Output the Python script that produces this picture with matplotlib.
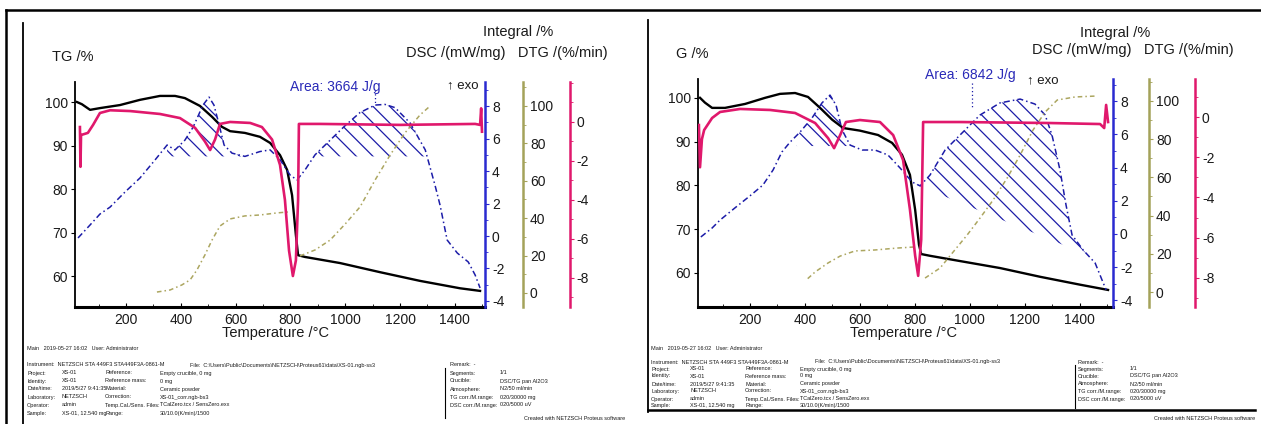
import numpy as np
import matplotlib
matplotlib.use("Agg")
import matplotlib.pyplot as plt
from matplotlib.lines import Line2D
from matplotlib.ticker import MultipleLocator

plt.rcParams['font.family'] = ['Liberation Sans', 'DejaVu Sans']
plt.rcParams['hatch.linewidth'] = 0.9
plt.rcParams['axes.unicode_minus'] = False

# ---------------- left measurement ----------------
l_tg_t = [21, 39, 69, 105, 178, 251, 324, 379, 415, 470, 514, 550, 580, 634, 689, 726, 762, 788,
          806, 820, 828, 853, 981, 1127, 1273, 1419, 1492]
l_tg = [100, 99.5, 98.2, 98.6, 99.3, 100.5, 101.4, 101.4, 100.9, 99.1, 96.6, 94.3, 93.3, 92.9,
        92.0, 90.6, 87.8, 84.4, 78.6, 69.4, 64.8, 64.4, 63.0, 60.9, 58.9, 57.2, 56.6]

l_dtg_t = [32, 34, 36, 61, 80, 105, 142, 215, 324, 397, 452, 488, 507, 525, 543, 580, 653, 696,
           733, 762, 780, 795, 809, 820, 828, 831, 908, 1200, 1474, 1492, 1496, 1499]
l_dtg = [-0.26, -2.3, -0.67, -0.56, -0.15, 0.46, 0.6, 0.56, 0.41, 0.2, -0.3, -1.0, -1.44, -0.9,
         -0.1, 0.0, -0.05, -0.26, -0.9, -2.2, -4.0, -6.6, -7.9, -7.1, -4.0, -0.1, -0.1, -0.15,
         -0.1, -0.15, 0.7, -0.5]

l_dsc_t = [25, 69, 105, 142, 196, 251, 306, 350, 379, 415, 445, 481, 503, 521, 536, 558, 587, 634,
           689, 726, 762, 799, 824, 853, 890, 945, 1000, 1054, 1109, 1145, 1182, 1237, 1292, 1328,
           1346, 1372, 1409, 1449, 1474, 1492]
l_dsc = [-0.12, 0.68, 1.35, 1.78, 2.7, 3.57, 4.68, 5.6, 5.3, 5.9, 6.7, 8.06, 8.55, 8.06, 7.1, 5.6,
         5.1, 4.9, 5.2, 5.3, 4.7, 3.75, 3.45, 4.06, 5.0, 5.9, 6.8, 7.6, 8.06, 8.1, 7.9, 6.95, 5.3,
         3.1, 1.9, -0.25, -1.05, -1.6, -2.4, -3.2]

# baselines of the evaluated peaks (T from, T to, DSC from, DSC to)
l_bases = [(350, 640, 4.9, 4.9), (860, 1310, 4.9, 4.9)]

l_int1_t = [313, 361, 404, 434, 459, 488, 514, 543, 580, 634, 689, 751, 791]
l_int1 = [0.5, 1.6, 4.3, 7, 12.3, 20.3, 28.3, 35.8, 39.6, 41.2, 41.7, 42.8, 43.3]
l_int2_t = [835, 890, 945, 1000, 1054, 1109, 1164, 1218, 1273, 1310]
l_int2 = [19.8, 23, 28.3, 36.9, 46, 60.4, 73.8, 85.6, 95.2, 100]
l_area = "Area: 3664 J/g"

# ---------------- right measurement ----------------
r_tg_t = [18, 36, 62, 109, 182, 255, 309, 364, 411, 455, 499, 539, 600, 666, 717, 753, 782, 801,
          815, 823, 855, 964, 1110, 1256, 1401, 1503]
r_tg = [100, 98.9, 97.7, 97.7, 98.6, 100, 100.9, 101.1, 100.2, 97.7, 95, 93.1, 92.5, 91.5, 89.7,
        87, 82.4, 74.4, 66.4, 64.3, 63.9, 62.7, 61.1, 59.1, 57.3, 56.1]

r_dtg_t = [14, 18, 25, 33, 62, 91, 164, 273, 364, 437, 484, 506, 528, 549, 600, 673, 721, 757,
           782, 801, 812, 823, 830, 964, 1292, 1474, 1489, 1496, 1503]
r_dtg = [-0.4, -2.5, -1.1, -0.65, -0.05, 0.25, 0.4, 0.35, 0.2, -0.3, -1.05, -1.55, -0.9, -0.25,
         -0.15, -0.25, -0.9, -2.14, -4.6, -6.9, -7.9, -6.1, -0.25, -0.25, -0.3, -0.35, -0.55,
         0.6, -0.25]

r_dsc_t = [21, 62, 91, 145, 200, 247, 284, 316, 346, 382, 426, 462, 491, 513, 535, 564, 608, 655,
           702, 746, 790, 819, 855, 910, 964, 1037, 1110, 1183, 1237, 1274, 1299, 1328, 1350,
           1372, 1412, 1456, 1481, 1496]
r_dsc = [-0.18, 0.36, 0.84, 1.57, 2.3, 2.95, 3.86, 4.94, 5.54, 6.14, 7.0, 7.9, 8.37, 7.77, 6.27,
         5.36, 5.06, 5.06, 4.76, 3.98, 3.13, 2.9, 3.55, 5.06, 5.96, 7.17, 7.9, 8.13, 7.83, 7.17,
         5.96, 3.86, 1.75, -0.06, -0.96, -1.75, -2.77, -3.37]

r_bases = [(370, 570, 5.3, 5.3), (800, 1420, 3.0, -1.2)]

r_int1_t = [410, 437, 484, 528, 582, 655, 735, 801]
r_int1 = [7, 10.5, 15.2, 18.8, 21.5, 22, 23, 23.6]
r_int2_t = [837, 892, 939, 990, 1037, 1085, 1136, 1183, 1230, 1274, 1318, 1383, 1463]
r_int2 = [7.3, 12.6, 20.9, 29.8, 38.7, 48.2, 59.7, 71.7, 84.8, 94.2, 100.5, 102.1, 102.6]
r_area = "Area: 6842 J/g"

# info block text (rows of the measurement report)
info_head = "Main   2019-05-27 16:02   User: Administrator"
info_row0 = ["Instrument:  NETZSCH STA 449F3 STA449F3A-0861-M",
             "File:  C:\\Users\\Public\\Documents\\NETZSCH\\Proteus61\\data\\XS-01.ngb-ss3",
             "Remark:  -"]
info_c1 = ["Project:", "Identity:", "Date/time:", "Laboratory:", "Operator:", "Sample:"]
info_c2 = ["XS-01", "XS-01", "2019/5/27 9:41:35", "NETZSCH", "admin", "XS-01, 12.540 mg"]
info_c3 = ["Reference:", "Reference mass:", "Material:", "Correction:", "Temp.Cal./Sens. Files:", "Range:"]
info_c4 = ["Empty crucible, 0 mg", "0 mg", "Ceramic powder", "XS-01_corr.ngb-bs3",
           "TCalZero.tcx / SensZero.exx", "30/10.0(K/min)/1500"]
info_c5 = ["Segments:", "Crucible:", "Atmosphere:", "TG corr./M.range:", "DSC corr./M.range:", ""]
info_c6 = ["1/1", "DSC/TG pan Al2O3", "N2/50 ml/min", "020/30000 mg", "020/5000 uV", ""]
footer = "Created with NETZSCH Proteus software"

W, H = 1261, 424
BLACK = "black"
PINK = "#e0186c"
BLUE = "#1c1ca8"
OLIVE = "#aca660"
TXT = "#1a1a1a"

fig = plt.figure(figsize=(W / 100, H / 100), dpi=100)


def fx(x):
    return x / W


def fy(y):
    return 1 - y / H


def fline(x0, y0, x1, y1, lw=1.2, color="black"):
    fig.add_artist(Line2D([fx(x0), fx(x1)], [fy(y0), fy(y1)], lw=lw, color=color))


def ftext(x, y, s, size=10.5, color=TXT, **kw):
    fig.text(fx(x), fy(y), s, fontsize=size, va="center", color=color, **kw)


def panel(box, xlim, tg_lim, dsc_lim, int_lim, dtg_lim, int_pos, dtg_pos,
          tg_t, tg, dtg_t, dtg, dsc_t, dsc, bases, int_segs, area, area_xy, leader):
    x0, y0, x1, y1 = box
    ax = fig.add_axes([fx(x0), fy(y1), (x1 - x0) / W, (y1 - y0) / H])
    ax.patch.set_alpha(0)
    ax_dsc = ax.twinx()
    ax_int = ax.twinx()
    ax_dtg = ax.twinx()

    ax.set_xlim(*xlim)
    ax.set_ylim(*tg_lim)
    ax_dsc.set_ylim(*dsc_lim)
    ax_int.set_ylim(*int_lim)
    ax_dtg.set_ylim(*dtg_lim)

    for s in ["top", "right"]:
        ax.spines[s].set_visible(False)
    ax.spines["bottom"].set_linewidth(2.2)
    ax.spines["left"].set_linewidth(1.3)
    for tw in (ax_dsc, ax_int, ax_dtg):
        for s in ["top", "bottom", "left"]:
            tw.spines[s].set_visible(False)
    ax_int.spines["right"].set_position(("axes", int_pos))
    ax_dtg.spines["right"].set_position(("axes", dtg_pos))
    for tw, c in ((ax_dsc, "#2a2ad0"), (ax_int, "#a4a25a"), (ax_dtg, PINK)):
        tw.spines["right"].set_color(c)
        tw.spines["right"].set_linewidth(1.8)
        tw.tick_params(axis="y", labelcolor=TXT, labelsize=10, length=3, pad=2, width=0.8)
        tw.tick_params(axis="y", which="minor", length=2, color=c)
        tw.tick_params(axis="y", which="major", color=c)

    ax.xaxis.set_minor_locator(MultipleLocator(100))
    ax.set_xticks([200, 400, 600, 800, 1000, 1200, 1400])
    ax.tick_params(axis="x", direction="in", length=3, labelsize=10, pad=4, labelcolor=TXT)
    ax.tick_params(axis="x", which="minor", direction="in", length=2)
    ax.set_yticks([60, 70, 80, 90, 100])
    ax.tick_params(axis="y", length=3, labelsize=10, pad=2, labelcolor=TXT)

    ax_dsc.set_yticks([-4, -2, 0, 2, 4, 6, 8])
    ax_dsc.yaxis.set_minor_locator(MultipleLocator(1))
    ax_int.set_yticks([0, 20, 40, 60, 80, 100])
    ax_int.yaxis.set_minor_locator(MultipleLocator(10))
    ax_dtg.set_yticks([-8, -6, -4, -2, 0])
    ax_dtg.yaxis.set_minor_locator(MultipleLocator(1))

    # integral
    for st, sv in int_segs:
        ax_int.plot(st, sv, color=OLIVE, lw=1.1, ls=(0, (3, 2, 1, 2)))

    # DSC with hatched peak areas
    dt = np.array(dsc_t, float)
    dv = np.array(dsc, float)
    for ta, tb, ba, bb in bases:
        grid = np.linspace(ta, tb, 200)
        cur = np.interp(grid, dt, dv)
        base = np.interp(grid, [ta, tb], [ba, bb])
        ax_dsc.fill_between(grid, cur, base, where=cur > base, interpolate=True,
                            facecolor="none", edgecolor=BLUE, hatch="\\\\", linewidth=0)
    ax_dsc.plot(dt, dv, color=BLUE, lw=1.1, ls=(0, (4, 2, 1, 2)))
    ax_dsc.plot(leader[0], leader[1], color=BLUE, lw=0.9, ls=(0, (1, 2)))

    # TG and DTG
    ax.plot(tg_t, tg, color=BLACK, lw=1.7, zorder=5)
    ax_dtg.plot(dtg_t, dtg, color=PINK, lw=1.9)

    ftext(area_xy[0], area_xy[1], area, size=10, color="#2a2ab8")


# left panel
panel((75, 82, 485, 307), (14, 1510), (52.9, 104.6), (-4.37, 9.48), (-7.5, 112.8),
      (-9.49, 2.05), 1.0927, 1.207,
      l_tg_t, l_tg, l_dtg_t, l_dtg, l_dsc_t, l_dsc, l_bases,
      [(l_int1_t, l_int1), (l_int2_t, l_int2)], l_area, (290, 87),
      ([1110, 1110], [9.0, 8.2]))

# right panel
panel((698, 79, 1113, 307), (10.7, 1521), (52.2, 104.3), (-4.4, 9.34), (-7.85, 111.5),
      (-9.45, 1.89), 1.0867, 1.1976,
      r_tg_t, r_tg, r_dtg_t, r_dtg, r_dsc_t, r_dsc, r_bases,
      [(r_int1_t, r_int1), (r_int2_t, r_int2)], r_area, (925, 75),
      ([1008, 1008], [9.1, 7.6]))

# axis titles
ftext(52, 57, "TG /%")
ftext(676, 54, "G /%")
ftext(518, 32, "Integral /%", ha="center")
ftext(1115, 33, "Integral /%", ha="center")
ftext(507, 53, "DSC /(mW/mg)   DTG /(%/min)", ha="center")
ftext(1133, 50, "DSC /(mW/mg)   DTG /(%/min)", ha="center")
ftext(447, 85, "\u2191 exo", size=9.5)
ftext(1027, 80, "\u2191 exo", size=9.5)
ftext(276, 333, "Temperature /\u00b0C", ha="center")
ftext(904, 333, "Temperature /\u00b0C", ha="center")

# frame lines
fline(6, 10, 1261, 10, lw=1.8)
fline(6, 10, 6, 424, lw=1.8)
fline(23, 23, 23, 424, lw=1.3)
fline(648, 20, 648, 412, lw=1.3)
fline(648, 410, 1255, 410, lw=1.8)
fline(445, 368, 445, 418, lw=0.8)
fline(1075, 365, 1075, 408, lw=0.8)


# report text
def info(xs, y_head, y_row0, rows_y, x_row0, foot_xy):
    s = 4.0
    ftext(xs[0], y_head, info_head, size=s)
    for xx, t in zip(x_row0, info_row0):
        ftext(xx, y_row0, t, size=s)
    cols = [info_c1, info_c2, info_c3, info_c4, info_c5, info_c6]
    for xx, col in zip(xs, cols):
        for yy, t in zip(rows_y, col):
            ftext(xx, yy, t, size=s)
    ftext(foot_xy[0], foot_xy[1], footer, size=s, ha="right")


info([27, 62, 105, 160, 450, 500], 348, 365, [373, 381, 389, 397, 405, 413],
     [27, 190, 450], (625, 419))
info([651, 690, 745, 800, 1078, 1130], 349, 362, [369, 376, 384, 391, 399, 406],
     [651, 815, 1078], (1255, 419))

fig.savefig("out.png", dpi=100)
